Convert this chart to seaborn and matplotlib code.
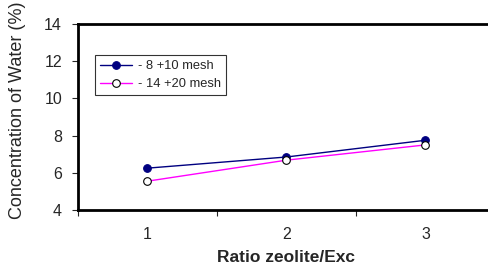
import matplotlib
matplotlib.use("Agg")
import matplotlib.pyplot as plt
import seaborn as sns
import pandas as pd

ratios = [1, 2, 3]
mesh_8_10 = [6.25, 6.85, 7.75]
mesh_14_20 = [5.55, 6.68, 7.50]
series_names = ["- 8 +10 mesh", "- 14 +20 mesh"]

df = pd.DataFrame({
    "ratio": ratios * 2,
    "water": mesh_8_10 + mesh_14_20,
    "series": [series_names[0]] * 3 + [series_names[1]] * 3,
})

sns.set_style("white")
plt.rcParams['font.family'] = ['Liberation Sans', 'DejaVu Sans']

W, H = 489, 274
fig = plt.figure(figsize=(W / 100, H / 100), dpi=100)
left, right, top, bottom = 78, 495, 24, 210
ax = fig.add_axes([left / W, 1 - bottom / H, (right - left) / W, (bottom - top) / H])

colors = {series_names[0]: "#000080", series_names[1]: "#FF00FF"}
for name, fc in zip(series_names, ["#000080", "white"]):
    sub = df[df["series"] == name]
    sns.lineplot(data=sub, x="ratio", y="water", ax=ax, color=colors[name],
                 linewidth=1.0, marker="o", markersize=5.5,
                 markerfacecolor=fc, markeredgecolor="black" if fc == "white" else "#000080",
                 markeredgewidth=0.8, label=name)

ax.set_xlim(0.5, 3.5)
ax.set_ylim(4, 14)
ax.set_yticks([4, 6, 8, 10, 12, 14])
ax.set_xticks([1, 2, 3])
ax.set_xticks([0.5, 1.5, 2.5, 3.5], minor=True)
ax.tick_params(axis="x", which="major", length=0, pad=12, labelsize=11.5)
ax.tick_params(axis="x", which="minor", length=4.5, width=0.8, direction="out", bottom=True)
ax.tick_params(axis="y", which="major", length=4.5, width=0.8, direction="out", left=True, labelsize=11.5, pad=7)

for sp in ax.spines.values():
    sp.set_linewidth(2)
    sp.set_color("black")

ax.set_xlabel("Ratio zeolite/Exc", fontsize=12.5, fontweight="bold", labelpad=6)
ax.set_ylabel("")
fig.text(18 / W, 1 - 110 / H, "Concentration of Water (%)", rotation=90,
         ha="center", va="center", fontsize=13)

leg = ax.legend(loc="upper left", bbox_to_anchor=((95 - left) / (right - left), 1 - (55 - top) / (bottom - top)),
                frameon=True, fancybox=False, fontsize=9.3, borderpad=0.4,
                handlelength=2.5, labelspacing=0.45, borderaxespad=0, handletextpad=0.4)
leg.get_frame().set_edgecolor("black")
leg.get_frame().set_linewidth(0.8)

fig.savefig("out.png", dpi=100)
